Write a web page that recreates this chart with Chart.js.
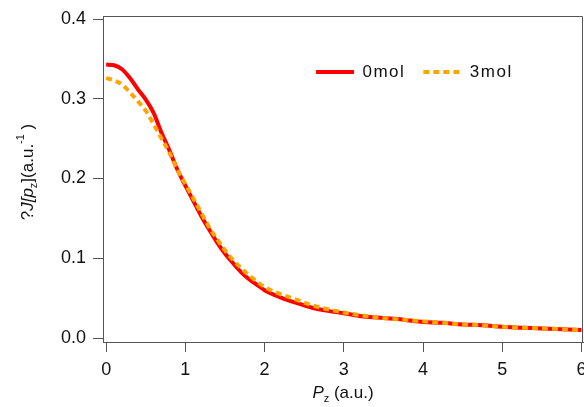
<!DOCTYPE html>
<html>
<head>
<meta charset="utf-8">
<script src="https://cdn.jsdelivr.net/npm/chart.js@4"></script>
<style>
  html, body { margin: 0; padding: 0; background: #fff; }
  #wrap { width: 584px; height: 407px; }
</style>
</head>
<body>
<div id="wrap"><canvas id="momentum"></canvas></div>
<script>
// momentum values (a.u.)
const pz = [0, 0.1, 0.2, 0.3, 0.4, 0.5, 0.6, 0.7, 0.8, 0.9, 1.0, 1.1, 1.2, 1.3, 1.4, 1.5,
  1.6, 1.7, 1.8, 1.9, 2.0, 2.2, 2.4, 2.6, 2.8, 3.0, 3.25, 3.5, 3.75, 4.0, 4.25, 4.5,
  4.75, 5.0, 5.25, 5.5, 5.75, 6.0];

const mol0 = [0.343, 0.342, 0.337, 0.326, 0.312, 0.299, 0.282, 0.257, 0.235, 0.211, 0.191,
  0.172, 0.153, 0.136, 0.120, 0.106, 0.094, 0.083, 0.074, 0.067, 0.060, 0.051, 0.044,
  0.038, 0.034, 0.031, 0.027, 0.025, 0.023, 0.020, 0.019, 0.017, 0.016, 0.014, 0.013,
  0.012, 0.011, 0.010];

const mol3 = [0.326, 0.323, 0.318, 0.308, 0.297, 0.285, 0.268, 0.250, 0.232, 0.211, 0.193,
  0.175, 0.157, 0.139, 0.124, 0.110, 0.098, 0.088, 0.079, 0.071, 0.064, 0.055, 0.048,
  0.041, 0.036, 0.032, 0.028, 0.025, 0.023, 0.021, 0.019, 0.017, 0.016, 0.014, 0.013,
  0.012, 0.011, 0.010];

const seriesLabels = ["0mol", "3mol"];
const xTicks = [0, 1, 2, 3, 4, 5, 6];
const yTicks = [0, 0.1, 0.2, 0.3, 0.4];

const axisColor = "#555";
const textColor = "#111";

Chart.defaults.font.family = '"Liberation Sans", Arial, sans-serif';
Chart.defaults.color = textColor;

function points(ys) {
  return pz.map((x, i) => ({ x: x, y: ys[i] }));
}

// box around plot, axis titles with italics/sub/superscripts, legend inside the plot
const framePlugin = {
  id: "framePlugin",
  afterInit(chart) {
    const legend = chart.legend;
    const fit = legend.fit;
    legend.fit = function () { fit.call(this); this.height = 0; };
    const draw = legend.draw;
    legend.draw = function () {
      this.ctx.save();
      this.ctx.letterSpacing = "1.5px";
      draw.call(this);
      this.ctx.restore();
    };
  },
  afterLayout(chart) {
    const a = chart.chartArea;
    const lg = chart.legend;
    lg.left = a.left + 195;
    lg.top = a.top + 29.5;
    lg.right = a.right;
    lg.bottom = lg.top + 60;
    lg.width = lg.right - lg.left;
    lg.height = 60;
  },
  afterDraw(chart) {
    const ctx = chart.ctx;
    const a = chart.chartArea;
    ctx.save();
    ctx.strokeStyle = axisColor;
    ctx.lineWidth = 1;
    ctx.beginPath();
    ctx.moveTo(a.left, a.top + 0.5);
    ctx.lineTo(a.right - 0.5, a.top + 0.5);
    ctx.lineTo(a.right - 0.5, a.bottom);
    ctx.stroke();

    ctx.fillStyle = textColor;
    ctx.textBaseline = "alphabetic";
    const f = '"Liberation Sans", Arial, sans-serif';

    const xTitle = [
      { t: "P", font: "italic 17px " + f, dy: 0 },
      { t: "z", font: "11px " + f, dy: 4 },
      { t: " (a.u.)", font: "17px " + f, dy: 0 }
    ];
    drawRich(ctx, xTitle, (a.left + a.right) / 2, 398);

    const yTitle = [
      { t: "?", font: "17px " + f, dy: 0 },
      { t: "J[p", font: "italic 17px " + f, dy: 0 },
      { t: "z", font: "11px " + f, dy: 4 },
      { t: "](a.u.", font: "17px " + f, dy: 0 },
      { t: "-1", font: "11px " + f, dy: -9 },
      { t: " )", font: "17px " + f, dy: 0 }
    ];
    ctx.translate(33, 172);
    ctx.rotate(-Math.PI / 2);
    drawRich(ctx, yTitle, 0, 0);
    ctx.restore();
  }
};

function drawRich(ctx, parts, cx, baseline) {
  let w = 0;
  parts.forEach(p => { ctx.font = p.font; w += ctx.measureText(p.t).width; });
  let x = cx - w / 2;
  parts.forEach(p => {
    ctx.font = p.font;
    ctx.fillText(p.t, x, baseline + p.dy);
    x += ctx.measureText(p.t).width;
  });
}

new Chart(document.getElementById("momentum"), {
  type: "line",
  data: {
    datasets: [
      {
        label: seriesLabels[0],
        data: points(mol0),
        borderColor: "#ff0000",
        backgroundColor: "#ff0000",
        borderWidth: 4,
        pointRadius: 0,
        order: 1,
        cubicInterpolationMode: "monotone"
      },
      {
        label: seriesLabels[1],
        data: points(mol3),
        borderColor: "#ffa500",
        backgroundColor: "#ffa500",
        borderWidth: 4,
        borderDash: [6, 4],
        pointRadius: 0,
        order: 0,
        cubicInterpolationMode: "monotone"
      }
    ]
  },
  options: {
    responsive: true,
    maintainAspectRatio: false,
    animation: false,
    layout: { padding: { top: 16, right: 1, left: 0, bottom: 0 } },
    plugins: {
      tooltip: { enabled: false },
      legend: {
        position: "top",
        align: "start",
        labels: {
          usePointStyle: true,
          pointStyle: "line",
          pointStyleWidth: 38,
          padding: 18,
          color: textColor,
          font: { size: 17 },
          sort: (a, b) => a.datasetIndex - b.datasetIndex,
          generateLabels: chart => Chart.defaults.plugins.legend.labels.generateLabels(chart)
            .map(item => {
              const ds = chart.data.datasets[item.datasetIndex];
              item.lineDash = ds.borderDash || [];
              item.lineWidth = ds.borderWidth;
              item.strokeStyle = ds.borderColor;
              return item;
            })
        }
      }
    },
    scales: {
      x: {
        type: "linear",
        min: -0.04,
        max: 6.02,
        afterBuildTicks: s => { s.ticks = xTicks.map(v => ({ value: v })); },
        afterFit: s => { s.height = 65; s.paddingLeft = 0; s.paddingRight = 0; },
        grid: { drawOnChartArea: false, tickLength: 10, color: axisColor },
        border: { color: axisColor, width: 1 },
        ticks: { padding: 7, font: { size: 18 }, color: textColor, callback: v => String(v) }
      },
      y: {
        type: "linear",
        min: -0.005,
        max: 0.4038,
        afterBuildTicks: s => { s.ticks = yTicks.map(v => ({ value: v })); },
        afterFit: s => { s.width = 103; s.paddingTop = 0; s.paddingBottom = 0; },
        grid: { drawOnChartArea: false, tickLength: 10, color: axisColor },
        border: { color: axisColor, width: 1 },
        ticks: { padding: 7, font: { size: 18 }, color: textColor, callback: v => v.toFixed(1) }
      }
    }
  },
  plugins: [framePlugin]
});
</script>
</body>
</html>
